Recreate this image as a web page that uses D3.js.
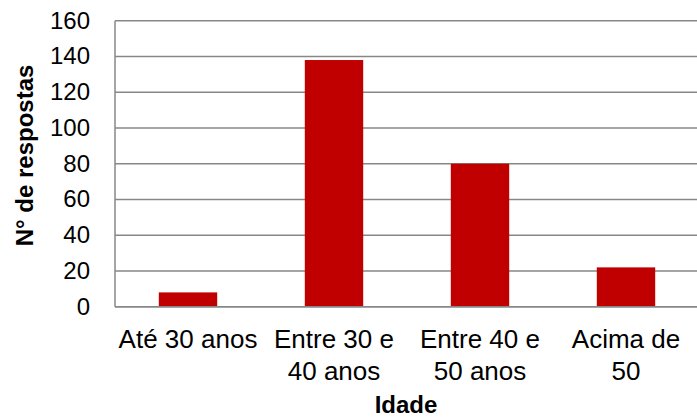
<!DOCTYPE html>
<html>
<head>
<meta charset="utf-8">
<script src="https://cdn.jsdelivr.net/npm/d3@7/dist/d3.min.js"></script>
<style>
  body { margin: 0; background: #ffffff; }
  svg { display: block; font-family: Arial, "Liberation Sans", sans-serif; }
</style>
</head>
<body>
<div id="chart"></div>
<script>
// Idade x numero de respostas
var categories = [
    ["Até 30 anos"],
    ["Entre 30 e", "40 anos"],
    ["Entre 40 e", "50 anos"],
    ["Acima de", "50"]
];
var values = [8, 138, 80, 22];
var yTicks = [0, 20, 40, 60, 80, 100, 120, 140, 160];

(function() {

    var width = 697;
    var height = 418;
    var plotLeft = 115, plotRight = 699, plotTop = 20.7, plotBottom = 306.7;

    var svg = d3.select("#chart")
        .append("svg")
        .attr("width", width)
        .attr("height", height);

    var x = d3.scaleBand()
        .domain(d3.range(categories.length))
        .range([plotLeft, plotRight])
        .paddingInner(0.6)
        .paddingOuter(0.3);

    var y = d3.scaleLinear()
        .domain([0, 160])
        .range([plotBottom, plotTop]);

    // Gridlines
    svg.append("g")
        .selectAll("line")
        .data(yTicks)
        .enter()
        .append("line")
        .attr("x1", plotLeft)
        .attr("x2", width)
        .attr("y1", function(d) { return y(d); })
        .attr("y2", function(d) { return y(d); })
        .attr("stroke", "#878787")
        .attr("stroke-width", 1.5);

    // Bars
    svg.append("g")
        .selectAll("rect")
        .data(values)
        .enter()
        .append("rect")
        .attr("x", function(d, i) { return x(i); })
        .attr("y", function(d) { return y(d); })
        .attr("width", x.bandwidth())
        .attr("height", function(d) { return y(0) - y(d); })
        .attr("fill", "#c00000");

    // Axis lines
    svg.append("line")
        .attr("x1", plotLeft).attr("x2", plotLeft)
        .attr("y1", plotTop).attr("y2", plotBottom)
        .attr("stroke", "#878787")
        .attr("stroke-width", 1.5);

    svg.append("line")
        .attr("x1", plotLeft).attr("x2", width)
        .attr("y1", plotBottom).attr("y2", plotBottom)
        .attr("stroke", "#878787")
        .attr("stroke-width", 1.5);

    // Y tick labels
    svg.append("g")
        .selectAll("text")
        .data(yTicks)
        .enter()
        .append("text")
        .attr("x", 90)
        .attr("y", function(d) { return y(d) + 8; })
        .attr("text-anchor", "end")
        .attr("font-size", "24px")
        .attr("fill", "#000000")
        .text(function(d) { return d; });

    // Category labels
    var cat = svg.append("g")
        .selectAll("text")
        .data(categories)
        .enter()
        .append("text")
        .attr("text-anchor", "middle")
        .attr("font-size", "26px")
        .attr("fill", "#000000");

    cat.selectAll("tspan")
        .data(function(d, i) {
            return d.map(function(s) { return { s: s, i: i }; });
        })
        .enter()
        .append("tspan")
        .attr("x", function(d) { return x(d.i) + x.bandwidth() / 2; })
        .attr("y", function(d, j) { return 348 + j * 32; })
        .text(function(d) { return d.s; });

    // Axis titles
    svg.append("text")
        .attr("x", (plotLeft + width) / 2)
        .attr("y", 413)
        .attr("text-anchor", "middle")
        .attr("font-size", "24px")
        .attr("font-weight", "bold")
        .text("Idade");

    svg.append("text")
        .attr("transform", "translate(33,155.5) rotate(-90)")
        .attr("text-anchor", "middle")
        .attr("font-size", "24px")
        .attr("font-weight", "bold")
        .text("N° de respostas");

})();
</script>
</body>
</html>
